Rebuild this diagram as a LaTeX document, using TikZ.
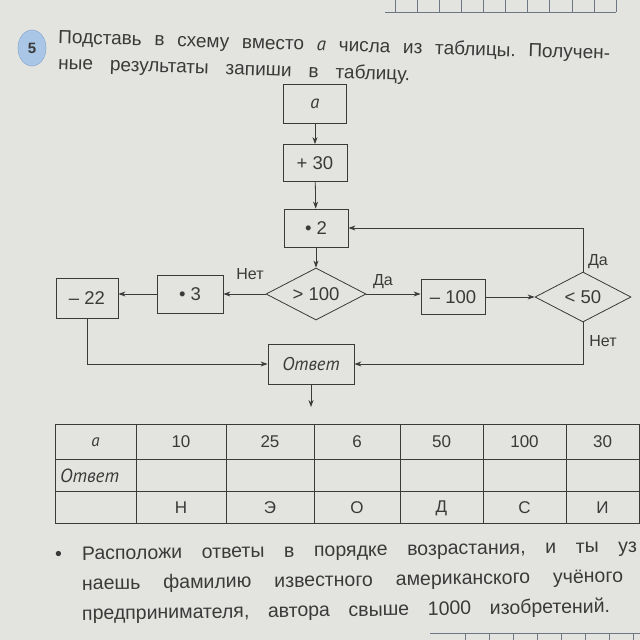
\documentclass[tikz,border=0pt]{standalone}
\usepackage{fontspec}
\setmainfont{Liberation Sans}[ItalicFont={PT Sans Italic}]
\usetikzlibrary{arrows.meta,shapes.geometric}
\definecolor{paper}{HTML}{E3E3DF}
\definecolor{ink}{HTML}{3A3A3A}
\definecolor{badgefill}{HTML}{A9C6E6}
\definecolor{badgeline}{HTML}{8FAFD3}
\definecolor{gridc}{HTML}{6E7686}
\tikzset{
  box/.style={draw=ink, line width=0.8pt, minimum width=64pt, minimum height=38pt, inner sep=0pt, font=\fontsize{18.5}{22}\selectfont, text=ink},
  dia/.style={draw=ink, line width=0.8pt, diamond, aspect=2, inner sep=0pt, minimum width=100pt, minimum height=52pt, font=\fontsize{18.5}{22}\selectfont, text=ink},
  arr/.style={draw=ink, line width=0.8pt, -{Stealth[length=7pt,width=5pt]}},
  lbl/.style={font=\fontsize{16}{19}\selectfont, text=ink, inner sep=0pt},
  cell/.style={font=\fontsize{17}{20}\selectfont, text=ink, inner sep=0pt},
  tline/.style={draw=ink, line width=0.7pt},
  gline/.style={draw=gridc, line width=0.6pt},
  ttl/.style={font=\fontsize{19}{23}\selectfont, text=ink, inner sep=0pt, anchor=base west},
  btx/.style={font=\fontsize{19.5}{23}\selectfont, text=ink, inner sep=0pt, anchor=base west},
}
\begin{document}
\begin{tikzpicture}[x=1pt,y=-1pt]
\useasboundingbox (0,0) rectangle (640,640);
\clip (0,0) rectangle (640,640);
\fill[paper] (0,0) rectangle (640,640);

% page grids
\draw[gline] (385,12) -- (616,12);
\foreach \k in {0,...,10} {\draw[gline] ({395+22.1*\k},0) -- ({395+22.1*\k},12);}
\draw[gline] (430,633) -- (640,633);
\foreach \k in {0,...,7} {\draw[gline] ({465+24*\k},633) -- ({465+24*\k},640);}

% badge and title
\node[ellipse, fill=badgefill, draw=badgeline, line width=0.6pt, minimum width=28pt, minimum height=36pt, inner sep=0pt, font=\bfseries\fontsize{15}{18}\selectfont, text=ink] (badge) at (32,48) {5};
\node[ttl, rotate=-1.7] (t1) at (58,43) {\hbox to 552pt{Подставь\hfill в\hfill схему\hfill вместо\hfill \textit{a}\hfill числа\hfill из\hfill таблицы.\hfill Получен-}};
\node[ttl, rotate=-1.9] (t2) at (58,69) {\hbox to 352pt{ные\hfill результаты\hfill запиши\hfill в\hfill таблицу.}};

% flowchart nodes
\node[box, minimum width=63pt, minimum height=39pt] (a) at (315,104) {\textit{a}};
\node[box, minimum height=37pt] (p30) at (315,163) {+ 30};
\node[box] (m2) at (316,228) {• 2};
\node[dia] (g100) at (316,294) {> 100};
\node[box, minimum width=66pt] (m3) at (190,294) {• 3};
\node[box, minimum width=62pt, minimum height=40pt] (s22) at (87,298) {– 22};
\node[box, minimum height=35pt] (s100) at (453,297) {– 100};
\node[dia, minimum width=96pt, minimum height=50pt] (l50) at (583,297) {< 50};
\node[box, minimum width=86pt, minimum height=40pt] (ans) at (311,364) {\textit{Ответ}};
\coordinate (out) at (311,407);

% connectors
\draw[arr] (a) -- (p30);
\draw[arr] (p30) -- (m2);
\draw[arr] (m2) -- (g100);
\draw[arr] (g100.west) -- (g100.west -| m3.east);
\draw[arr] (m3.west) -- (m3.west -| s22.east);
\draw[arr] (g100.east) -- (g100.east -| s100.west);
\draw[arr] (s100.east) -- (s100.east -| l50.west);
\draw[arr] (l50.north) |- (m2.east);
\draw[arr] (l50.south) |- (ans.east);
\draw[arr] (s22.south) |- (ans.west);
\draw[arr] (ans) -- (out);

% labels
\node[lbl] (lnet1) at (250,274) {Нет};
\node[lbl] (lda1) at (383,282) {Да};
\node[lbl] (lda2) at (598,262) {Да};
\node[lbl] (lnet2) at (603,341) {Нет};

% table
\draw[tline] (55,424) rectangle (639,523);
\draw[tline] (55,459) -- (639,459);
\draw[tline] (55,491) -- (639,491);
\foreach \x in {136,226,314,400,483,566} {\draw[tline] (\x,424) -- (\x,523);}
\node[cell] (ha) at (95.5,442) {\textit{a}};
\node[cell] (h1) at (181,442) {10};
\node[cell] (h2) at (270,442) {25};
\node[cell] (h3) at (357,442) {6};
\node[cell] (h4) at (441.5,442) {50};
\node[cell] (h5) at (524.5,442) {100};
\node[cell] (h6) at (602.5,442) {30};
\node[cell, anchor=west, font=\fontsize{19}{22}\selectfont] (hans) at (60,476) {\textit{Ответ}};
\node[cell] (c1) at (181,508) {Н};
\node[cell] (c2) at (270,508) {Э};
\node[cell] (c3) at (357,508) {О};
\node[cell] (c4) at (441.5,508) {Д};
\node[cell] (c5) at (524.5,508) {С};
\node[cell] (c6) at (602.5,508) {И};

% bullet text
\node[btx] (bul) at (55,560) {•};
\node[btx, rotate=0.8] (b1) at (82,560) {\hbox to 555pt{Расположи\hfill ответы\hfill в\hfill порядке\hfill возрастания,\hfill и\hfill ты\hfill уз}};
\node[btx, rotate=0.8] (b2) at (82,590) {\hbox to 541pt{наешь\hfill фамилию\hfill известного\hfill американского\hfill учёного}};
\node[btx, rotate=0.8] (b3) at (82,620) {\hbox to 528pt{предпринимателя,\hfill автора\hfill свыше\hfill 1000\hfill изобретений.}};
\end{tikzpicture}
\end{document}
